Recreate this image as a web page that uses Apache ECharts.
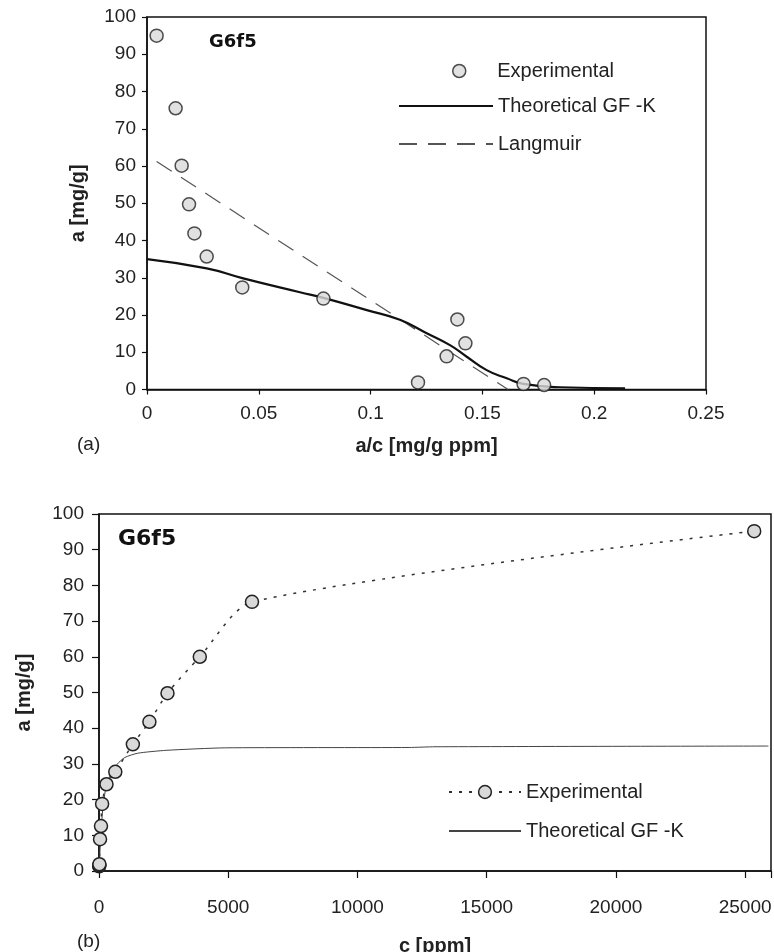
<!DOCTYPE html>
<html>
<head>
<meta charset="utf-8">
<script src="https://cdn.jsdelivr.net/npm/echarts@6/dist/echarts.min.js"></script>
<style>
html,body{margin:0;padding:0;background:#fff;}
#chart{width:774px;height:952px;}
</style>
</head>
<body>
<div id="chart"></div>
<script>
// ---- Panel (a): a vs a/c ----
const topExpX = [0.0043, 0.0128, 0.0155, 0.0188, 0.0212, 0.0267, 0.0426, 0.0789, 0.1212, 0.1340, 0.1388, 0.1424, 0.1684, 0.1776];
const topExpY = [95, 75.5, 60.1, 49.7, 41.9, 35.7, 27.4, 24.4, 1.9, 8.9, 18.8, 12.4, 1.5, 1.2];
const topGfkX = [0, 0.0267, 0.0426, 0.0684, 0.0789, 0.0983, 0.1131, 0.1251, 0.1355, 0.1430, 0.1519, 0.1609, 0.1683, 0.1847, 0.2138];
const topGfkY = [35, 32.5, 29.9, 26.1, 24.6, 21.3, 18.7, 15.1, 11.9, 8.8, 5.2, 3.0, 1.5, 0.6, 0.3];
const langX = [0.0043, 0.1615];
const langY = [61.2, 0];
// ---- Panel (b): a vs c ----
const botExpC = [7, 10, 16, 40, 77, 120, 290, 630, 1310, 1950, 2650, 3900, 5920, 25350];
const botExpA = [1.3, 1.6, 1.9, 8.9, 12.6, 18.8, 24.3, 27.8, 35.5, 41.8, 49.8, 60.0, 75.4, 95.2];
const botGfkC = [0, 1.4, 9, 21, 46, 81, 115, 153, 312, 703, 1000, 1500, 2600, 4900, 12000, 13000, 25900];
const botGfkA = [0, 0.3, 1.5, 3, 7, 11.5, 14.6, 17.8, 24.9, 29.9, 31.8, 33, 33.8, 34.5, 34.6, 34.8, 35];
// ---- Axis ticks ----
const yTicks = {min: 0, max: 100, interval: 10};
const topXTicks = {min: 0, max: 0.25, interval: 0.05};
const botXTicks = {min: 0, max: 26000, interval: 5000};
// ---- Labels ----
const seriesNames = ['Experimental', 'Theoretical GF -K', 'Langmuir'];
const panelLabels = ['(a)', '(b)'];
const sampleName = 'G6f5';
const axisNames = {topX: 'a/c [mg/g ppm]', botX: 'c [ppm]', y: 'a [mg/g]'};

const zip = (xs, ys) => xs.map((x, i) => [x, ys[i]]);

const FONT = 'Liberation Sans';
const TXT = '#222';
const markerStyle = {color: '#d9d9d9', borderColor: '#222', borderWidth: 1.5};
const noSymbol = {color: 'rgba(0,0,0,0)', borderColor: 'rgba(0,0,0,0)', borderWidth: 0};

function valueAxis(gridIndex, ticks, extra) {
  return Object.assign({
    type: 'value', gridIndex: gridIndex,
    min: ticks.min, max: ticks.max, interval: ticks.interval,
    splitLine: {show: false},
    axisLine: {show: true, onZero: false, lineStyle: {color: '#111', width: 1.5}},
    axisTick: {show: true, inside: false, length: 5, lineStyle: {color: '#111', width: 1.2}},
    axisLabel: {fontFamily: FONT, fontSize: 19, color: TXT},
    nameLocation: 'middle',
    nameTextStyle: {fontFamily: FONT, fontSize: 20, fontWeight: 'bold', color: TXT}
  }, extra);
}

const chart = echarts.init(document.getElementById('chart'), null, {renderer: 'canvas'});
chart.setOption({
  animation: false,
  backgroundColor: '#fff',
  grid: [
    {left: 147, top: 17, right: 68, bottom: 562.5, show: true, borderColor: '#111', borderWidth: 1.5,
      containLabel: false, outerBoundsMode: 'none'},
    {left: 99, top: 514, right: 3, bottom: 81, show: true, borderColor: '#111', borderWidth: 1.5,
      containLabel: false, outerBoundsMode: 'none'}
  ],
  xAxis: [
    valueAxis(0, topXTicks, {name: axisNames.topX, nameGap: 47,
      axisLabel: {fontFamily: FONT, fontSize: 19, color: TXT, margin: 15}}),
    valueAxis(1, botXTicks, {name: axisNames.botX, nameGap: 65,
      axisTick: {show: true, length: 7, lineStyle: {color: '#111', width: 1.2}},
      axisLabel: {fontFamily: FONT, fontSize: 19, color: TXT, margin: 27,
        formatter: v => (v % 5000 === 0 ? String(v) : '')}})
  ],
  yAxis: [
    valueAxis(0, yTicks, {name: axisNames.y, nameGap: 59,
      axisLabel: {fontFamily: FONT, fontSize: 19, color: TXT, margin: 11}}),
    valueAxis(1, yTicks, {name: axisNames.y, nameGap: 65,
      axisTick: {show: true, length: 7, lineStyle: {color: '#111', width: 1.2}},
      axisLabel: {fontFamily: FONT, fontSize: 19, color: TXT, margin: 15}})
  ],
  title: [
    {text: sampleName, left: 209, top: 33, padding: 0,
      textStyle: {fontFamily: 'DejaVu Sans', fontSize: 18, fontWeight: 'bold', color: '#111'}},
    {text: sampleName, left: 118, top: 528, padding: 0,
      textStyle: {fontFamily: 'DejaVu Sans', fontSize: 22, fontWeight: 'bold', color: '#111'}},
    {text: panelLabels[0], left: 77, top: 435, padding: 0,
      textStyle: {fontFamily: FONT, fontSize: 19, fontWeight: 'normal', color: TXT}},
    {text: panelLabels[1], left: 77, top: 932, padding: 0,
      textStyle: {fontFamily: FONT, fontSize: 19, fontWeight: 'normal', color: TXT}}
  ],
  legend: [
    {data: [seriesNames[0]], left: 452, top: 61, itemWidth: 66, itemHeight: 13, padding: 0, selectedMode: false,
      itemStyle: markerStyle,
      textStyle: {fontFamily: FONT, fontSize: 20, color: TXT}},
    {data: [seriesNames[1]], left: 398, top: 96, itemWidth: 94, itemHeight: 14, padding: 0, selectedMode: false,
      itemStyle: noSymbol,
      textStyle: {fontFamily: FONT, fontSize: 20, color: TXT}},
    {data: [seriesNames[2]], left: 398, top: 134, itemWidth: 94, itemHeight: 14, padding: 0, selectedMode: false,
      itemStyle: noSymbol,
      textStyle: {fontFamily: FONT, fontSize: 20, color: TXT}},
    {data: [seriesNames[0] + ' '], left: 448, top: 782, itemWidth: 72, itemHeight: 16, padding: 0, selectedMode: false,
      formatter: n => n.trim(), itemStyle: markerStyle,
      textStyle: {fontFamily: FONT, fontSize: 20, color: TXT}},
    {data: [seriesNames[1] + ' '], left: 448, top: 821, itemWidth: 72, itemHeight: 14, padding: 0, selectedMode: false,
      formatter: n => n.trim(), itemStyle: noSymbol,
      textStyle: {fontFamily: FONT, fontSize: 20, color: TXT}}
  ],
  series: [
    {name: seriesNames[2], type: 'line', xAxisIndex: 0, yAxisIndex: 0, data: zip(langX, langY),
      symbol: 'none', lineStyle: {color: '#555', width: 1.2, type: [18, 11]}, z: 2},
    {name: seriesNames[1], type: 'line', xAxisIndex: 0, yAxisIndex: 0, data: zip(topGfkX, topGfkY),
      symbol: 'none', smooth: 0.5, lineStyle: {color: '#111', width: 2.2}, z: 3},
    {name: seriesNames[0], type: 'scatter', xAxisIndex: 0, yAxisIndex: 0, data: zip(topExpX, topExpY),
      symbol: 'circle', symbolSize: 13, itemStyle: markerStyle, z: 5},
    {name: seriesNames[1] + ' ', type: 'line', xAxisIndex: 1, yAxisIndex: 1, data: zip(botGfkC, botGfkA),
      symbol: 'none', smooth: 0.2, lineStyle: {color: '#444', width: 1}, z: 3},
    {name: seriesNames[0] + ' ', type: 'line', xAxisIndex: 1, yAxisIndex: 1, data: zip(botExpC, botExpA),
      symbol: 'circle', symbolSize: 13, showSymbol: true, smooth: 0.25,
      itemStyle: markerStyle, lineStyle: {color: '#333', width: 1.5, type: [3, 7]}, z: 5}
  ]
});
</script>
</body>
</html>
